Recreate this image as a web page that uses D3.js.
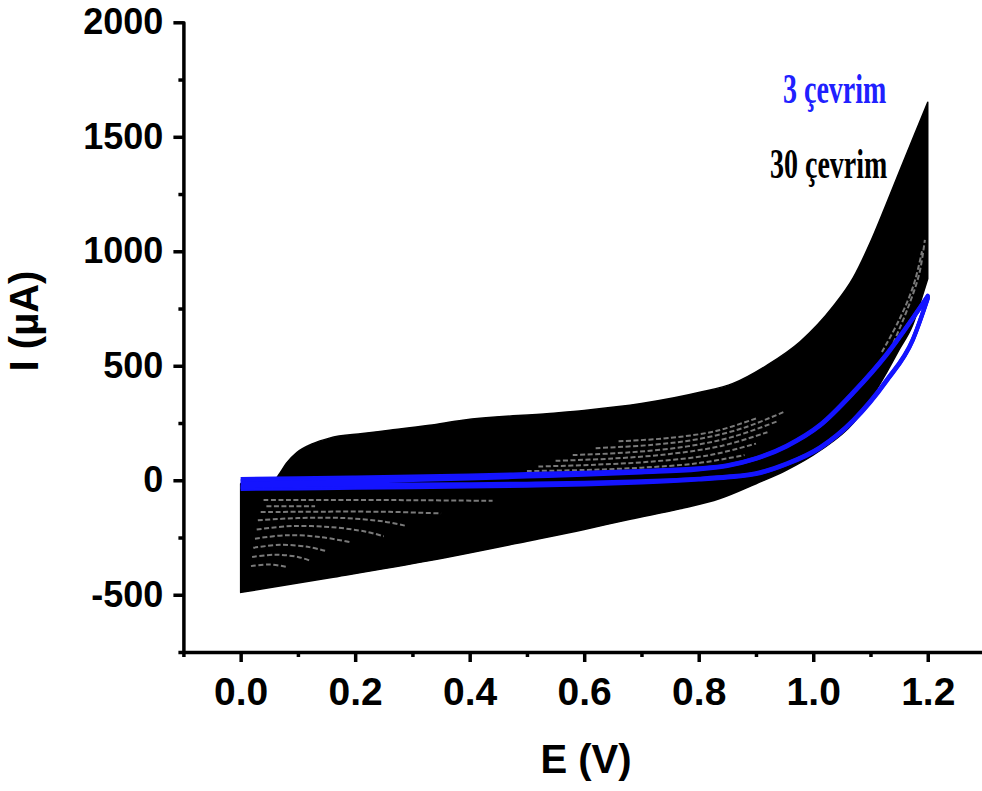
<!DOCTYPE html>
<html>
<head>
<meta charset="utf-8">
<script src="https://cdn.jsdelivr.net/npm/d3@7/dist/d3.min.js"></script>
<style>
  html, body { margin: 0; padding: 0; background: #ffffff; }
  svg { display: block; }
</style>
</head>
<body>
<svg id="chart" width="982" height="791"></svg>
<script>
// ---------------- data ----------------
const xTicks = [0.0, 0.2, 0.4, 0.6, 0.8, 1.0, 1.2];
const xMinorTicks = [-0.1, 0.1, 0.3, 0.5, 0.7, 0.9, 1.1, 1.3];
const yTicks = [-500, 0, 500, 1000, 1500, 2000];
const yMinorTicks = [-750, -250, 250, 750, 1250, 1750];

// 30 cycles: outer envelope of the black band (forward / upper edge)
const cyc30UpperE = [0.000, 0.040, 0.060, 0.068, 0.080, 0.098, 0.126, 0.155, 0.213, 0.260, 0.330, 0.388, 0.540, 0.600, 0.700, 0.802, 0.860, 0.919, 0.977, 1.035, 1.070, 1.100, 1.125, 1.150, 1.181, 1.200];
const cyc30UpperI = [-15, -12, 2, 29, 75, 121, 160, 184, 204, 218, 240, 262, 292, 305, 335, 384, 423, 502, 605, 760, 885, 1040, 1190, 1345, 1535, 1651];
// 30 cycles: lower edge of the black band (reverse scans)
const cyc30LowerE = [0.000, 0.156, 0.330, 0.505, 0.600, 0.680, 0.767, 0.837, 0.900, 0.950, 1.012, 1.070, 1.128, 1.150, 1.174, 1.190, 1.200];
const cyc30LowerI = [-490, -426, -351, -264, -215, -170, -125, -80, -15, 40, 130, 250, 470, 570, 680, 800, 880];

// 3 cycles (blue): potential grid and currents
const blueE = [0.000, 0.100, 0.200, 0.300, 0.400, 0.500, 0.600, 0.700, 0.800, 0.850, 0.900, 0.954, 1.012, 1.070, 1.128, 1.174, 1.200];
const blueFwd1 = [6, 9, 12, 16, 21, 27, 33, 41, 52, 66, 97, 152, 243, 386, 552, 710, 806];
const blueRev1 = [-38, -36, -33, -30, -27, -24, -19, -10, 3, 12, 27, 70, 140, 258, 432, 612, 792];
const blueFwd2 = [-4, 0, 4, 9, 15, 22, 29, 38, 50, 64, 95, 150, 240, 383, 549, 708, 804];
const blueRev2 = [-30, -28, -26, -24, -22, -19, -15, -7, 5, 14, 29, 72, 142, 261, 435, 614, 795];
const blueFwd3 = [-14, -10, -5, 1, 8, 16, 24, 34, 47, 62, 93, 148, 238, 380, 546, 706, 802];
const blueRev3 = [-22, -21, -20, -19, -17, -15, -11, -4, 7, 16, 31, 74, 145, 264, 438, 617, 798];

// faint gaps between the stacked black cycles (grey dotted traces), [E, I]
const gapTraces = [
  [[0.04, -86], [0.15, -86], [0.30, -87], [0.44, -90]],
  [[0.045, -113], [0.13, -113]],
  [[0.035, -139], [0.15, -137], [0.26, -138], [0.35, -145]],
  [[0.03, -175], [0.10, -165], [0.18, -165], [0.25, -180], [0.29, -200]],
  [[0.028, -215], [0.09, -200], [0.16, -205], [0.22, -225], [0.25, -245]],
  [[0.025, -255], [0.08, -240], [0.14, -248], [0.19, -270]],
  [[0.022, -295], [0.07, -282], [0.12, -292], [0.15, -310]],
  [[0.02, -335], [0.06, -325], [0.10, -335], [0.12, -350]],
  [[0.018, -375], [0.05, -368], [0.08, -378]],
  [[0.50, 40], [0.60, 45], [0.70, 55], [0.80, 75], [0.88, 110]],
  [[0.52, 60], [0.62, 68], [0.72, 82], [0.82, 110], [0.90, 160]],
  [[0.55, 85], [0.65, 95], [0.75, 115], [0.84, 150], [0.92, 210]],
  [[0.58, 110], [0.68, 122], [0.78, 148], [0.86, 190], [0.94, 260]],
  [[0.62, 140], [0.72, 155], [0.80, 180], [0.88, 230], [0.95, 300]],
  [[0.66, 170], [0.75, 185], [0.83, 215], [0.90, 270]],
  [[1.12, 560], [1.15, 700], [1.175, 850], [1.19, 1000]],
  [[1.14, 600], [1.165, 750], [1.185, 900], [1.195, 1050]]
];

const legendLabels = ["3 çevrim", "30 çevrim"];
const legendColors = ["#2020ff", "#000000"];

// ---------------- drawing ----------------
const svg = d3.select("#chart");
svg.append("rect").attr("width", 982).attr("height", 791).attr("fill", "#ffffff");

const x = d3.scaleLinear().domain([-0.1, 1.3]).range([183.4, 985]);
const y = d3.scaleLinear().domain([-750, 2000]).range([652, 22.3]);

const line = d3.line().x(d => x(d[0])).y(d => y(d[1])).curve(d3.curveMonotoneX);
const smooth = d3.line().x(d => x(d[0])).y(d => y(d[1])).curve(d3.curveCatmullRom);

// black band (30 cycles)
const up = cyc30UpperE.map((e, i) => [e, cyc30UpperI[i]]);
const lo = cyc30LowerE.map((e, i) => [e, cyc30LowerI[i]]).reverse();
const bandD = line(up) + line(lo).replace(/^M/, "L") + "Z";
svg.append("path").attr("d", bandD).attr("fill", "#000000").attr("stroke", "#000000").attr("stroke-width", 1.5).attr("stroke-linejoin", "round");

// grey gaps inside the black band
svg.append("g").selectAll("path").data(gapTraces).join("path")
  .attr("d", d => smooth(d))
  .attr("fill", "none").attr("stroke", "#7a7a7a").attr("stroke-width", 2)
  .attr("stroke-dasharray", "5,2.5");

// blue cycles
const blueSets = [[blueFwd1, blueRev1], [blueFwd2, blueRev2], [blueFwd3, blueRev3]];
blueSets.forEach(([f, r]) => {
  const fw = blueE.map((e, i) => [e, f[i]]);
  const rv = blueE.map((e, i) => [e, r[i]]).reverse();
  svg.append("path")
    .attr("d", line(fw) + line(rv).replace(/^M/, "L"))
    .attr("fill", "none").attr("stroke", "#1414ff").attr("stroke-width", 4)
    .attr("stroke-linejoin", "round");
});

// axes
const axisFont = "'Liberation Sans', Arial, Helvetica, sans-serif";
const gx = svg.append("g").attr("transform", `translate(0,${y(-750)})`)
  .call(d3.axisBottom(x).tickValues(xTicks).tickSize(10).tickSizeOuter(0).tickPadding(15).tickFormat(d3.format(".1f")));
const gxm = svg.append("g").attr("transform", `translate(0,${y(-750)})`)
  .call(d3.axisBottom(x).tickValues(xMinorTicks).tickSize(5).tickSizeOuter(0).tickFormat(""));
gxm.select(".domain").remove();

const gy = svg.append("g").attr("transform", `translate(${x(-0.1)},0)`)
  .call(d3.axisLeft(y).tickValues(yTicks).tickSize(10).tickSizeOuter(0).tickPadding(10).tickFormat(d => String(d)));
const gym = svg.append("g").attr("transform", `translate(${x(-0.1)},0)`)
  .call(d3.axisLeft(y).tickValues(yMinorTicks).tickSize(5).tickSizeOuter(0).tickFormat(""));
gym.select(".domain").remove();

[gx, gxm, gy, gym].forEach(g => {
  g.selectAll(".domain").attr("stroke", "#000").attr("stroke-width", 3.5).attr("stroke-linecap", "round");
  g.selectAll(".tick line").attr("stroke", "#000").attr("stroke-width", 3.5);
});
gx.selectAll(".tick text").attr("font-family", axisFont).attr("font-weight", "bold").attr("font-size", 39).attr("fill", "#000");
gy.selectAll(".tick text").attr("font-family", axisFont).attr("font-weight", "bold").attr("font-size", 36).attr("fill", "#000");

// axis titles
svg.append("text").attr("x", 586).attr("y", 773).attr("text-anchor", "middle")
  .attr("font-family", axisFont).attr("font-weight", "bold").attr("font-size", 40).text("E (V)");
svg.append("text").attr("transform", "translate(38,321) rotate(-90)").attr("text-anchor", "middle")
  .attr("font-family", axisFont).attr("font-weight", "bold").attr("font-size", 40).text("I (µA)");

// legend texts
const serif = "'Liberation Serif', 'Times New Roman', Times, serif";
const legendPos = [[783, 103], [770, 178]];
legendLabels.forEach((t, i) => {
  svg.append("text")
    .attr("transform", `translate(${legendPos[i][0]},${legendPos[i][1]}) scale(1,1.5)`)
    .attr("font-family", serif).attr("font-weight", "bold").attr("font-size", 28)
    .attr("fill", legendColors[i]).text(t);
});
</script>
</body>
</html>
